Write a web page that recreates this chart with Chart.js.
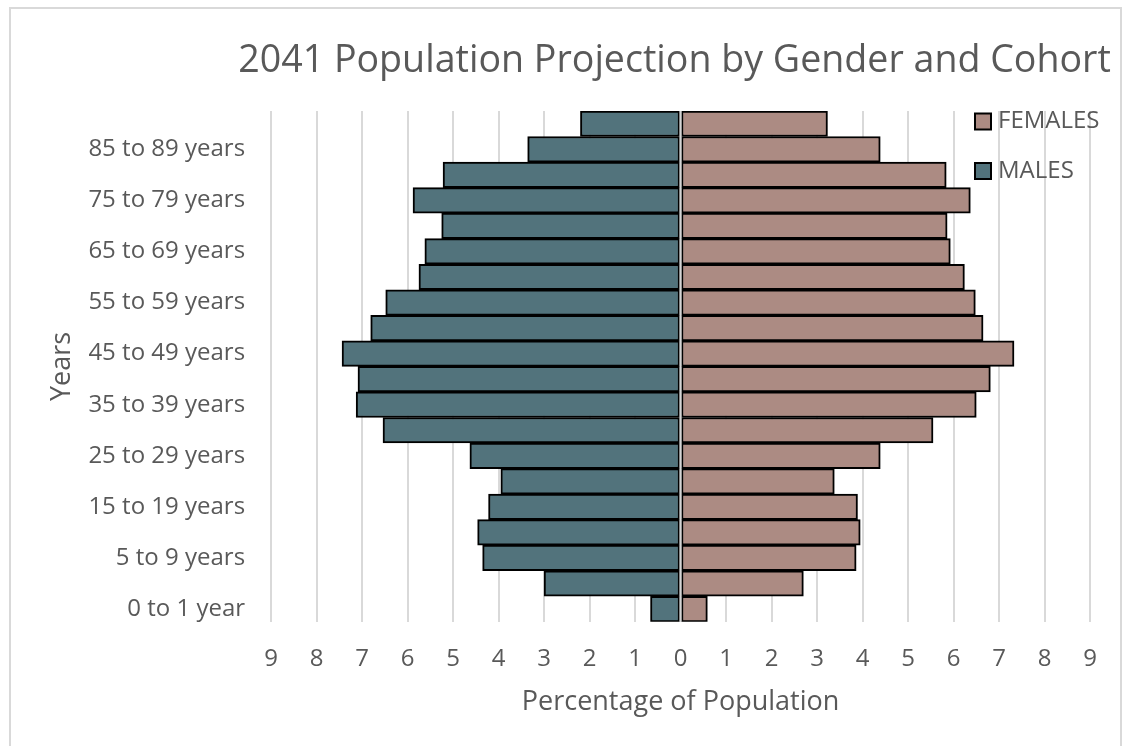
<!DOCTYPE html>
<html>
<head>
<meta charset="utf-8">
<script src="https://cdn.jsdelivr.net/npm/chart.js@4.4.1/dist/chart.umd.min.js"></script>
<style>
  html, body { margin: 0; padding: 0; background: #fff; overflow: hidden; }
  #frame { position: absolute; left: 9px; top: 7px; width: 1113px; height: 760px; border: 2px solid #d9d9d9; box-sizing: border-box; }
  #wrap { position: absolute; left: 0; top: 0; width: 1128px; height: 746px; }
</style>
</head>
<body>
<div id="frame"></div>
<div id="wrap"><canvas id="pyramid"></canvas></div>
<script>
// Age cohorts, youngest first (drawn bottom to top)
const cohorts = [
    "0 to 1 year", "1 to 4 years", "5 to 9 years", "10 to 14 years", "15 to 19 years",
    "20 to 24 years", "25 to 29 years", "30 to 34 years", "35 to 39 years", "40 to 44 years",
    "45 to 49 years", "50 to 54 years", "55 to 59 years", "60 to 64 years", "65 to 69 years",
    "70 to 74 years", "75 to 79 years", "80 to 84 years", "85 to 89 years", "90 years and over"
];

// Percentage of population per cohort
const females = [0.59, 2.70, 3.86, 3.95, 3.89, 3.38, 4.39, 5.55, 6.50, 6.81,
                 7.33, 6.65, 6.48, 6.24, 5.93, 5.86, 6.37, 5.84, 4.39, 3.23];
const males = [0.66, 3.00, 4.35, 4.46, 4.22, 3.95, 4.63, 6.54, 7.13, 7.09,
               7.44, 6.81, 6.48, 5.75, 5.62, 5.25, 5.88, 5.22, 3.36, 2.20];

const seriesNames = ["FEMALES", "MALES"];
const seriesColors = ["#ac8b83", "#52737c"];
const chartTitle = '2041 Population Projection by Gender and Cohort';

const textColor = '#595959';
const gridColor = '#d9d9d9';

// light line over the bars at zero
const zeroLine = {
    id: 'zeroLine',
    afterDatasetsDraw(chart) {
        const x = chart.scales.x.getPixelForValue(0);
        const area = chart.chartArea;
        const ctx = chart.ctx;
        ctx.save();
        ctx.strokeStyle = '#d4d4d4';
        ctx.lineWidth = 2;
        ctx.beginPath();
        ctx.moveTo(x, area.top);
        ctx.lineTo(x, area.bottom);
        ctx.stroke();
        ctx.restore();
    }
};

// title drawn by hand so it is not squeezed to the plot width
const wideTitle = {
    id: 'wideTitle',
    afterDraw(chart) {
        const ctx = chart.ctx;
        const area = chart.chartArea;
        ctx.save();
        ctx.font = '37.6px "Open Sans"';
        ctx.fillStyle = textColor;
        ctx.textAlign = 'center';
        ctx.textBaseline = 'middle';
        ctx.fillText(chartTitle, (area.left + area.right) / 2 - 6, area.top - 50);
        ctx.restore();
    }
};

// legend sitting inside the plot, top right
const insideLegend = {
    id: 'insideLegend',
    afterDraw(chart) {
        const ctx = chart.ctx;
        const area = chart.chartArea;
        const x = area.right - 115;
        let y = area.top + 10.5;
        ctx.save();
        ctx.font = '24px "Open Sans"';
        ctx.textBaseline = 'middle';
        chart.data.datasets.forEach((ds) => {
            ctx.fillStyle = ds.backgroundColor;
            ctx.fillRect(x, y - 8, 16, 16);
            ctx.strokeStyle = '#000';
            ctx.lineWidth = 2;
            ctx.strokeRect(x, y - 8, 16, 16);
            ctx.fillStyle = textColor;
            ctx.fillText(ds.label, x + 23, y);
            y += 49.5;
        });
        ctx.restore();
    }
};

const ctx = document.getElementById('pyramid').getContext('2d');
new Chart(ctx, {
    type: 'bar',
    data: {
        labels: cohorts,
        datasets: [
            {
                label: seriesNames[0],
                data: females,
                backgroundColor: seriesColors[0],
                borderColor: '#000',
                borderWidth: 2,
                borderSkipped: false,
                categoryPercentage: 1,
                barPercentage: 1
            },
            {
                label: seriesNames[1],
                data: males.map(v => -v),
                backgroundColor: seriesColors[1],
                borderColor: '#000',
                borderWidth: 2,
                borderSkipped: false,
                categoryPercentage: 1,
                barPercentage: 1
            }
        ]
    },
    options: {
        indexAxis: 'y',
        responsive: true,
        maintainAspectRatio: false,
        animation: false,
        layout: { padding: { left: 20, right: 38, top: 111, bottom: 27 } },
        plugins: {
            legend: { display: false },
            tooltip: { enabled: false },
            title: { display: false }
        },
        scales: {
            x: {
                stacked: true,
                min: -9,
                max: 9,
                ticks: {
                    stepSize: 1,
                    padding: 23,
                    color: textColor,
                    font: { family: 'Open Sans', size: 24 },
                    callback: (v) => Math.abs(v)
                },
                grid: { color: gridColor, lineWidth: 2, drawTicks: false },
                border: { display: false },
                title: {
                    display: true,
                    text: 'Percentage of Population',
                    color: textColor,
                    font: { family: 'Open Sans', size: 27 },
                    padding: { top: -10, bottom: 0 }
                }
            },
            y: {
                stacked: true,
                reverse: true,
                ticks: {
                    autoSkip: false,
                    padding: 26,
                    color: textColor,
                    font: { family: 'Open Sans', size: 24 },
                    callback: function (v, i) { return i % 2 === 0 ? this.getLabelForValue(v) : ''; }
                },
                grid: { display: false, drawTicks: false },
                border: { display: false },
                title: {
                    display: true,
                    text: 'Years',
                    color: textColor,
                    font: { family: 'Open Sans', size: 27 },
                    padding: { top: 26, bottom: -16 }
                }
            }
        }
    },
    plugins: [zeroLine, wideTitle, insideLegend]
});
</script>
</body>
</html>
